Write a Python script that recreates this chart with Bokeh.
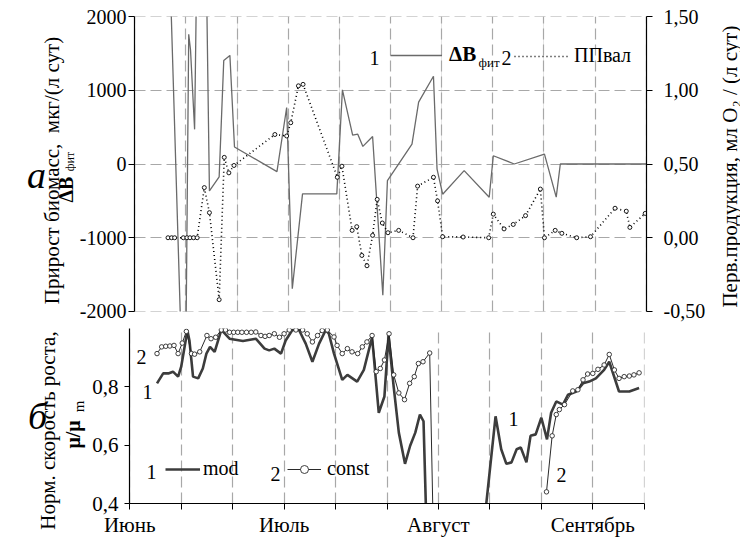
import math
from bokeh.plotting import figure
from bokeh.models import (Range1d, LinearAxis, FixedTicker, Label, Legend, LegendItem,
                          CustomJSTickFormatter, Grid)
from bokeh.layouts import column, row
from bokeh.embed import file_html
from bokeh.resources import INLINE

nan = float("nan")

# ---- data (days from 1 June) ----
db_days = [6.8, 9.1, 10.0, 10.55, 10.9, 11.7, 12.1, 14.0, 14.6, 16.5, 17.4, 18.6, 19.5, 27.8,
           29.7, 30.8, 32.8, 39.5, 40.6, 42.6, 43.6, 44.6, 46.5, 48.5, 49.4, 54.2, 55.5, 58.4,
           59.1, 60.2, 64.4, 69.3, 70.1, 74.2, 80.1, 82.4, 83.2, 100.0]
db_vals = [2800, -2500, -2500, 1760, 1550, 470, 2600, 2600, -365, -176, 1405, 1473, 230, -104,
           766, -1690, -405, -405, 1005, 392, 405, 239, 374, -1780, -225, 270, 840, 1190,
           -70, -410, -90, -450, 112, 0, 135, -450, 0, 0]

pp_days = [6.5, 7.2, 7.8, 9.5, 10.2, 10.8, 11.5, 12.2, 13.6, 14.6, 16.5, 17.5, 18.4, 19.4,
           27.4, 29.7, 30.5, 32.0, 32.9, 39.6, 40.5, 42.5, 43.4, 44.4, 45.4, 46.5, 47.4, 48.4,
           49.5, 51.6, 54.4, 55.3, 58.4, 59.2, 60.2, 64.2, 69.2, 70.1, 72.2, 74.0, 76.4, 79.3,
           80.1, 82.2, 83.5, 86.4, 89.1, 93.9, 96.1, 96.8, 99.8]
pp_vals = [0, 0, 0, 0, 0, 0, 0, 0, 0.34, 0.17, -0.42, 0.545, 0.44, 0.49,
           0.70, 0.69, 0.78, 1.03, 1.04, 0.41, 0.485, 0.05, 0.075, -0.12, -0.19, 0.016, 0.26, 0.10,
           0.034, 0.05, 0.0, 0.35, 0.41, 0.25, 0.007, 0.005, 0.0, 0.16, 0.06, 0.09, 0.15, 0.33,
           0.0, 0.05, 0.03, 0.0, 0.007, 0.2, 0.18, 0.07, 0.165]

mod_days = [5.3, 6.5, 7.5, 8.4, 9.4, 10.0, 11.2, 11.6, 12.3, 13.3, 14.2, 14.9, 15.6, 16.5,
            17.8, 19.4, 22.0, 24.5, 26.2, 27.1, 28.1, 29.4, 30.3, 31.6, 32.9, 34.2, 35.5, 36.8,
            38.1, 38.7, 39.7, 41.3, 42.3, 44.2, 45.5, 47.1, 48.4, 49.5, 50.3, 51.3, 52.3, 53.5,
            54.5, 55.5, 56.4, 57.1, 57.7, 63.0, 68.7, 71.1, 72.2, 73.2, 74.2, 75.2, 76.0, 77.1,
            77.9, 78.9, 80.0, 81.1, 81.9, 82.9, 84.2, 85.2, 86.8, 88.1, 89.3, 90.6, 92.2, 93.2,
            95.1, 97.1, 99.0]
mod_vals = [0.812, 0.846, 0.846, 0.852, 0.835, 0.869, 0.993, 0.959, 0.835, 0.829, 0.863, 0.914,
            0.937, 0.920, 0.995, 0.965, 0.957, 0.965, 0.931, 0.925, 0.931, 0.914, 0.959, 0.995,
            0.995, 0.948, 0.886, 0.948, 0.995, 0.982, 0.914, 0.824, 0.841, 0.818, 0.858, 0.970,
            0.711, 0.767, 0.976, 0.800, 0.643, 0.536, 0.598, 0.643, 0.705, 0.682, 0.300, nan,
            0.300, 0.699, 0.586, 0.536, 0.541, 0.586, 0.592, 0.541, 0.632, 0.637, 0.694, 0.620,
            0.711, 0.750, 0.739, 0.773, 0.784, 0.812, 0.818, 0.829, 0.858, 0.886, 0.784, 0.784,
            0.796]

const_days = [5.3, 6.2, 7.0, 7.8, 8.6, 9.4, 10.2, 11.0, 12.0, 12.6, 13.6, 15.0, 15.8, 16.7,
              17.8, 18.6, 19.4, 20.2, 21.0, 21.8, 22.7, 23.6, 24.5, 25.5, 26.3, 27.1, 28.1, 29.1,
              30.0, 31.0, 32.3, 33.6, 34.5, 35.5, 36.5, 37.4, 38.4, 39.7, 40.3, 41.3, 42.3, 43.2,
              44.3, 45.2, 46.1, 47.1, 47.9, 48.7, 49.5, 50.4, 51.3, 52.3, 53.4, 54.4, 55.3, 56.1,
              57.0, 58.3, 59.0, 70.0, 81.0, 82.1, 82.9, 83.5, 84.5, 86.1, 87.1, 88.1, 89.0, 90.0,
              91.0, 92.2, 93.2, 94.2, 95.1, 96.1, 97.1, 98.0, 99.0]
const_vals = [0.914, 0.937, 0.939, 0.940, 0.942, 0.914, 0.950, 0.990, 0.914, 0.912, 0.920, 0.976,
              0.965, 0.970, 0.995, 0.995, 0.987, 0.987, 0.987, 0.987, 0.987, 0.987, 0.988, 0.976,
              0.973, 0.976, 0.982, 0.970, 0.982, 0.995, 0.995, 0.995, 0.982, 0.954, 0.976, 0.993,
              0.995, 0.971, 0.942, 0.914, 0.931, 0.920, 0.914, 0.937, 0.954, 0.976, 0.852, 0.863,
              0.892, 0.982, 0.841, 0.779, 0.756, 0.812, 0.835, 0.880, 0.886, 0.916, 0.300, nan,
              0.440, 0.632, 0.705, 0.722, 0.739, 0.786, 0.790, 0.824, 0.844, 0.846, 0.860, 0.875,
              0.911, 0.858, 0.829, 0.835, 0.837, 0.841, 0.848]

grid_days = list(range(0, 101, 10))
left_ticks = [-2000, -1000, 0, 1000, 2000]
right_ticks = [-0.5, 0.0, 0.5, 1.0, 1.5]
mu_ticks = [0.4, 0.6, 0.8]
month_ticks = [0, 30, 60, 90]
month_labels = ["Июнь", "Июль", "Август", "Сентябрь"]

FONT = "Liberation Serif"
GRID_COLOR = "#a8a8a8"
GRID_DASH = "11 5"
R90 = math.pi / 2

# layout geometry (page pixels)
TOP_H = 322
BOT_H = 217
TL_W = 76      # left text strip, top row
TR_W = 32      # right text strip, top row
BL_W = 88      # left text strip, bottom row
P1_W = 740 - TL_W - TR_W
P2_W = 740 - BL_W


def no_align(f):
    if "frame_align" in f.properties():
        f.frame_align = False


def text_fig(w, h):
    f = figure(frame_width=w, frame_height=h, output_backend="svg", toolbar_location=None,
               x_range=Range1d(0, w), y_range=Range1d(0, h), min_border=0,
               x_axis_location=None, y_axis_location=None)
    f.outline_line_color = None
    f.xgrid.visible = False
    f.ygrid.visible = False
    no_align(f)
    return f


def add_text(fig, ox, oy, text, px, py, size, angle=0.0, style="normal", align="center"):
    fig.add_layout(Label(x=px - ox, y=oy - py, x_units="screen", y_units="screen", text=text,
                         text_font=FONT, text_font_size=f"{size}px", text_font_style=style,
                         text_align=align, text_baseline="middle", angle=angle,
                         text_color="black"))


def add_legend(fig, renderers, label, x, y, gw, size, style="normal", standoff=5):
    leg = Legend(items=[LegendItem(label=label, renderers=renderers)], location=(x, y),
                 orientation="horizontal", glyph_width=gw, glyph_height=20, label_height=20,
                 padding=0, margin=0, spacing=0, label_standoff=standoff,
                 background_fill_alpha=0, border_line_alpha=0, label_text_font=FONT,
                 label_text_font_size=f"{size}px", label_text_font_style=style,
                 label_text_color="black")
    fig.add_layout(leg, "center")


def style_axis(ax, size, tick_out, standoff):
    ax.axis_line_color = "black"
    ax.axis_line_width = 1.2
    ax.major_tick_out = tick_out
    ax.major_tick_in = 0
    ax.minor_tick_out = 0
    ax.minor_tick_in = 0
    ax.major_tick_line_color = "black"
    ax.major_label_text_font = FONT
    ax.major_label_text_font_size = f"{size}px"
    ax.major_label_text_color = "black"
    ax.major_label_standoff = standoff


# ---------------- top panel ----------------
p1 = figure(width=P1_W, height=TOP_H, output_backend="svg", toolbar_location=None,
            x_range=Range1d(-0.05, 100.05), y_range=Range1d(-2000.5, 2000.5),
            min_border_left=132 - TL_W, min_border_right=P1_W - (132 - TL_W) - 517,
            min_border_top=16, min_border_bottom=TOP_H - 16 - 295, x_axis_location=None)
p1.outline_line_color = None
no_align(p1)
p1.extra_y_ranges = {"pp": Range1d(-0.5 - 0.5 / 4000, 1.5 + 0.5 / 4000)}

p1.yaxis.ticker = FixedTicker(ticks=left_ticks)
p1.yaxis.formatter = CustomJSTickFormatter(code="return tick.toFixed(0);")
ax_r = LinearAxis(y_range_name="pp", ticker=FixedTicker(ticks=right_ticks),
                  formatter=CustomJSTickFormatter(code="return tick.toFixed(2).replace('.', ',');"))
p1.add_layout(ax_r, "right")
style_axis(p1.yaxis[0], 20, 6, 2)
style_axis(ax_r, 20, 6, 11)

p1.ygrid.ticker = FixedTicker(ticks=left_ticks)
p1.ygrid.grid_line_color = GRID_COLOR
p1.ygrid.grid_line_dash = GRID_DASH
p1.ygrid.grid_line_width = 1.2
p1.add_layout(Grid(dimension=0, ticker=FixedTicker(ticks=grid_days), grid_line_color=GRID_COLOR,
                   grid_line_dash=GRID_DASH, grid_line_width=1.2))

r_db = p1.line(db_days, db_vals, line_color="#6a6a6a", line_width=1.3)
r_pp = p1.line(pp_days, pp_vals, y_range_name="pp", line_color="black", line_width=1.6,
               line_dash="1 3")
p1.scatter(pp_days, pp_vals, y_range_name="pp", marker="circle", size=4, line_color="black",
           fill_color="white", line_width=0.9)
r_pp_leg = p1.scatter([], [], y_range_name="pp", marker="circle", size=4, line_color="black",
                      fill_color="black")

F1X, F1Y = 132, 311
add_text(p1, F1X, F1Y, "1", 372, 57, 20)
add_legend(p1, [r_db], "ΔB", 388 - F1X, F1Y - 67, 52, 21, style="bold", standoff=7)
add_text(p1, F1X, F1Y, "фит", 476, 62, 13, align="left")
add_text(p1, F1X, F1Y, "2", 504, 57, 20)
add_legend(p1, [r_pp, r_pp_leg], "ППвал", 512 - F1X, F1Y - 67, 54, 20, standoff=6)

# left / right text strips of the top row
tl1 = text_fig(TL_W, TOP_H)
add_text(tl1, 0, TOP_H, "а", 36, 174, 38, style="italic")
add_text(tl1, 0, TOP_H, "Прирост биомасс, \u00a0мкг/(л сут)", 51, 170, 21, angle=R90)
add_text(tl1, 0, TOP_H, "ΔB", 65, 189, 20, angle=R90, style="bold")
add_text(tl1, 0, TOP_H, "фит", 69, 161, 12, angle=R90)

tr1 = text_fig(TR_W, TOP_H)
add_text(tr1, 740 - TR_W, TOP_H, "Перв.продукция, мл O₂ / (л сут)", 729, 166, 21, angle=R90)

# ---------------- bottom panel ----------------
p2 = figure(width=P2_W, height=BOT_H, output_backend="svg", toolbar_location=None,
            x_range=Range1d(-0.05, 100.05), y_range=Range1d(0.4, 1.0),
            min_border_left=129 - BL_W, min_border_right=P2_W - (129 - BL_W) - 515,
            min_border_top=6, min_border_bottom=BOT_H - 6 - 177)
p2.outline_line_color = None
no_align(p2)
p2.xaxis.ticker = FixedTicker(ticks=grid_days)
p2.xaxis.major_label_overrides = {d: "" for d in grid_days} | dict(zip(month_ticks, month_labels))
p2.yaxis.ticker = FixedTicker(ticks=mu_ticks)
p2.yaxis.formatter = CustomJSTickFormatter(code="return tick.toFixed(1).replace('.', ',');")
style_axis(p2.xaxis[0], 21, 6, 3)
style_axis(p2.yaxis[0], 21, 5, 6)
p2.ygrid.visible = False
p2.xgrid.ticker = FixedTicker(ticks=grid_days)
p2.xgrid.grid_line_color = GRID_COLOR
p2.xgrid.grid_line_dash = GRID_DASH
p2.xgrid.grid_line_width = 1.2

r_mod = p2.line(mod_days, mod_vals, line_color="#3c3c3c", line_width=2.6)
r_const = p2.line(const_days, const_vals, line_color="#2a2a2a", line_width=1.0)
r_const_m = p2.scatter(const_days, const_vals, marker="circle", size=4.5, line_color="#2a2a2a",
                       fill_color="white", line_width=0.9)

F2X, F2Y = 129, 505
add_text(p2, F2X, F2Y, "2", 141, 358, 20)
add_text(p2, F2X, F2Y, "1", 147, 393, 20)
add_text(p2, F2X, F2Y, "1", 513, 420, 20)
add_text(p2, F2X, F2Y, "2", 561, 476, 20)
add_text(p2, F2X, F2Y, "1", 151, 473, 20)
add_legend(p2, [r_mod], "mod", 165 - F2X, F2Y - 482, 35, 20, standoff=3)
add_text(p2, F2X, F2Y, "2", 275, 475, 20)
add_legend(p2, [r_const, r_const_m], "const", 287 - F2X, F2Y - 482, 34, 20, standoff=6)

bl2 = text_fig(BL_W, BOT_H)
B_BOTTOM = TOP_H + BOT_H
add_text(bl2, 0, B_BOTTOM, "б", 37, 415, 38, style="italic")
add_text(bl2, 0, B_BOTTOM, "Норм. скорость роста,", 47, 430, 21, angle=R90)
add_text(bl2, 0, B_BOTTOM, "μ/μ", 72, 434, 20, angle=R90, style="bold")
add_text(bl2, 0, B_BOTTOM, "m", 78, 406, 15, angle=R90)

layout = column(row(tl1, p1, tr1), row(bl2, p2))
open("out.html", "w").write(file_html(layout, INLINE))
